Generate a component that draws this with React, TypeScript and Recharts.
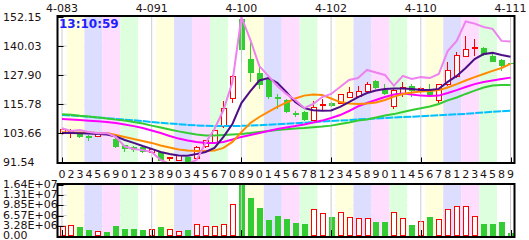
import React from 'react';
import { ComposedChart, Bar, Line, XAxis, YAxis, CartesianGrid, ReferenceArea, ReferenceLine } from 'recharts';

// ---------- data ----------
const dayDigits = [0,2,3,4,5,6,9,0,1,2, 3,8,9,0,3,4,5,6,7,0, 8,9,0,1,4,5,6,7,8,1, 2,3,4,5,8,9,0,1,1,4, 5,6,7,8,1,2,3,4,5,8, 9];
const topDateLabels = ['4-083', '4-091', '4-100', '4-102', '4-110', '4-111'];
const topDateIndex = [0, 10, 20, 30, 40, 50];

const opens = [103.6,103.9,103.4,102.7,102.3,103.8,101.3,98.8,97.9,97.9,
  95.8,95.8,93.3,92.3,93.7,93.4,98.1,99.9,106.5,118.0,
  151.3,134.7,128.7,126.3,118.9,117.6,112.0,112.5,109.2,115.2,
  116.3,116.2,118.7,118.9,121.2,125.4,121.7,115.0,120.1,123.5,
  121.0,122.2,117.3,123.9,127.3,135.6,138.9,139.4,136.0,134.2,
  133.1];
const closes = [105.1,104.3,102.0,101.7,103.4,103.4,97.9,97.2,96.7,95.8,
  97.1,92.3,93.6,94.4,91.9,97.9,100.6,104.8,114.1,127.4,
  138.4,128.7,123.9,118.7,118.2,112.7,111.3,109.2,114.5,115.8,
  115.2,119.7,120.8,121.2,124.2,122.6,120.0,121.7,122.9,121.2,
  122.2,119.4,123.9,129.8,136.0,138.8,139.4,136.2,133.6,131.9,
  132.6];
const highs = [105.4,105.5,103.6,102.9,103.6,104.0,101.6,99.0,98.5,98.2,
  97.4,96.0,94.0,94.8,94.0,98.3,101.0,105.2,117.0,127.8,
  152.15,141.6,132.6,127.0,119.9,118.0,113.1,113.0,117.0,118.0,
  116.6,120.0,123.1,123.5,125.0,125.8,124.2,122.0,124.9,124.2,
  123.0,124.2,124.3,133.3,137.4,144.4,143.0,139.6,137.7,134.6,
  133.5];
const lows = [103.2,101.7,101.8,100.6,102.1,103.0,97.5,95.8,96.0,95.5,
  95.5,92.0,92.3,92.0,91.54,92.6,97.6,99.5,106.0,116.2,
  132.9,124.9,122.1,118.0,113.8,112.3,110.4,108.8,108.8,113.1,
  114.8,115.8,118.3,118.5,120.4,122.3,119.7,113.8,118.7,118.7,
  120.0,118.8,116.5,123.5,126.9,135.3,136.0,135.8,133.3,129.8,
  132.2];
const volumes = [3.2e6,3.5e6,2.8e6,1.9e6,1.6e6,1.3e6,3.2e6,2.25e6,2.25e6,1.9e6,
  2.15e6,2.9e6,2.15e6,1.6e6,1.9e6,3.75e6,3.2e6,3.2e6,3.85e6,1.03e7,
  1.6422e7,1.21e7,8.9e6,5.15e6,6.45e6,5.5e6,4.3e6,3.85e6,8.6e6,7.5e6,
  6.0e6,7.8e6,6.2e6,5.7e6,5.7e6,4.5e6,4.5e6,7.6e6,5.7e6,3.5e6,
  4.7e6,6.0e6,5.4e6,8.6e6,9.55e6,9.55e6,6.35e6,3.85e6,3.85e6,4.5e6,
  0.95e6];

const violetLine = [105.8,104.7,105.1,104.2,103.7,103.8,102.2,98.2,97.2,96.7,
  95.9,92.6,91.0,91.0,91.0,92.6,99.7,105.5,113.4,125.1,
  152.15,142.6,131.7,127.6,123.4,120.1,117.6,114.2,115.9,118.8,
  120.1,123.0,125.9,126.7,130.1,129.0,128.0,123.5,127.6,126.3,
  127.1,126.7,128.4,138.0,142.2,150.3,149.4,148.0,147.2,142.2,
  141.9];
const purpleLine = [103.8,103.8,103.7,103.6,103.4,103.2,102.4,100.9,99.7,98.4,
  97.2,95.9,95.1,94.5,94.4,95.1,95.9,97.6,102.2,107.6,
  116.3,121.3,125.7,126.7,124.7,120.9,116.7,114.2,113.3,113.1,
  113.2,114.7,116.7,118.8,120.5,121.5,122.2,122.4,122.4,122.2,
  121.7,121.7,122.2,125.1,127.6,130.9,134.6,136.7,137.2,136.3,
  135.6];
const orangeLine = [104.1,104.0,104.0,104.0,103.8,103.8,103.0,102.2,101.3,100.5,
  99.7,98.6,97.8,97.0,96.5,96.3,96.3,96.5,97.6,100.1,
  104.2,108.0,110.5,112.6,114.7,116.5,118.2,119.4,119.9,119.7,
  118.2,116.7,116.1,115.9,116.1,116.5,117.6,119.0,120.1,120.7,
  121.1,121.3,121.7,122.8,124.2,125.7,127.1,128.4,129.7,130.9,
  132.6];
const magentaLine = [109.7,109.45,109.2,108.95,108.7,108.4,108.0,107.4,106.7,105.9,
  104.9,103.8,102.6,101.5,100.7,100.1,99.7,99.7,100.1,101.1,
  102.2,103.0,103.8,104.7,105.5,106.1,106.7,107.4,108.2,109.0,
  110.1,111.3,113.0,114.9,116.3,117.6,118.8,119.9,120.3,119.9,
  119.4,119.2,119.4,120.5,121.7,123.0,124.2,125.1,125.7,126.3,
  126.9];
const greenLine = [111.6,111.4,111.0,110.7,110.3,109.9,109.4,109.0,108.4,107.8,
  106.9,106.1,105.3,104.5,103.8,103.2,102.8,102.8,103.0,103.2,
  103.4,103.8,104.3,104.7,105.1,105.4,105.7,105.9,106.2,106.5,
  106.9,107.6,108.2,109.0,109.45,110.3,111.1,111.7,112.6,113.4,
  114.1,114.9,115.9,117.4,118.6,120.1,121.5,122.8,123.6,123.8,
  123.8];
const cyanLine = [111.3,111.1,110.9,110.6,110.3,110.0,109.7,109.4,109.1,108.8,
  108.4,108.1,107.8,107.5,107.2,107.0,106.8,106.7,106.7,106.7,
  106.8,106.9,107.1,107.3,107.5,107.7,107.9,108.1,108.3,108.6,
  108.8,109.0,109.2,109.5,109.7,109.9,110.1,110.3,110.5,110.6,
  110.8,111.0,111.2,111.4,111.6,111.8,112.1,112.4,112.7,112.9,
  113.1];

const priceTicks = [91.54, 103.66, 115.78, 127.90, 140.03, 152.15];
const volumeTicks = [0, 3.2844e6, 6.5688e6, 9.8532e6, 1.31376e7, 1.6422e7];
const stripeColors = ['#ffffdd', '#ddddff', '#ffddff', '#ddffdd', '#ffffff'];

// ---------- derived table ----------
const rows = opens.map((o, i) => ({
  i,
  open: o,
  close: closes[i],
  high: highs[i],
  low: lows[i],
  range: [lows[i], highs[i]],
  vol: volumes[i],
  violet: violetLine[i],
  purple: purpleLine[i],
  orange: orangeLine[i],
  magenta: magentaLine[i],
  green: greenLine[i],
  cyan: cyanLine[i],
}));

const stripes = Array.from({ length: 25 }, (_, k) => ({ x1: 2 * k + 1, x2: 2 * k + 2, fill: stripeColors[k % 5] }));

const RED = '#ff0000';
const GREEN = '#33cc33';
const FONT = 'DejaVu Sans';
const TEXT = '#221111';
const GRID = '#cccccc';
const LABEL_LEFT = 3;

const fmtVol = (v: number) => {
  if (v === 0) return '0.00';
  const e = Math.floor(Math.log10(v));
  const m = v / Math.pow(10, e);
  return m.toFixed(2) + 'E+' + String(e).padStart(2, '0');
};

// ---------- shapes ----------
const Candle = (props: any) => {
  const { x, y, width, height, payload } = props;
  if (x == null || payload == null) return null;
  const { open, close, high, low } = payload;
  const span = high - low || 1;
  const k = height / span;
  const yO = y + (high - open) * k;
  const yC = y + (high - close) * k;
  const cx = Math.round(x + width / 2) + 0.5;
  const up = close >= open;
  const color = up ? RED : GREEN;
  const top = Math.min(yO, yC);
  const h = Math.max(Math.abs(yO - yC), 1);
  return (
    <g shapeRendering="crispEdges">
      <line x1={cx} x2={cx} y1={y} y2={y + height} stroke={color} strokeWidth={1} />
      {up ? (
        <rect x={cx - 2.5} y={top} width={5} height={h} fill="#ffffff" stroke={color} strokeWidth={1} />
      ) : (
        <rect x={cx - 3} y={top} width={6} height={h} fill={color} />
      )}
    </g>
  );
};

const VolBar = (props: any) => {
  const { x, y, width, height, payload } = props;
  if (x == null || payload == null) return null;
  const up = payload.close >= payload.open;
  const cx = Math.round(x + width / 2) + 0.5;
  return (
    <g shapeRendering="crispEdges">
      {up ? (
        <rect x={cx - 2.5} y={y + 0.5} width={5} height={Math.max(height - 1, 0)} fill="#ffffff" stroke={RED} strokeWidth={1} />
      ) : (
        <rect x={cx - 3} y={y} width={6} height={height} fill={GREEN} />
      )}
    </g>
  );
};

// ---------- ticks ----------
const TopTick = (props: any) => {
  const { x, y, payload } = props;
  const idx = topDateIndex.indexOf(payload.value);
  if (idx < 0) return <g />;
  return (
    <text x={x} y={y - 5} textAnchor="middle" fontFamily={FONT} fontSize={11} fill={TEXT}>
      {topDateLabels[idx]}
    </text>
  );
};

const DigitTick = (props: any) => {
  const { x, y, payload } = props;
  const v = payload.value;
  return (
    <g>
      <text x={x} y={y + 15.5} textAnchor="middle" fontFamily={FONT} fontSize={11} fill={TEXT}>
        {String(dayDigits[v])}
      </text>
      {v % 10 === 0 ? <line x1={Math.round(x) + 0.5} x2={Math.round(x) + 0.5} y1={y - 5} y2={y} stroke="#000" strokeWidth={1} /> : null}
    </g>
  );
};

const VolXTick = (props: any) => {
  const { x, y } = props;
  return <line x1={Math.round(x) + 0.5} x2={Math.round(x) + 0.5} y1={y - 6} y2={y} stroke="#000" strokeWidth={1} />;
};

const PriceTick = (props: any) => {
  const { x, y, payload } = props;
  return (
    <g>
      <text x={LABEL_LEFT} y={y + 3.5} textAnchor="start" fontFamily={FONT} fontSize={11} fill={TEXT}>
        {Number(payload.value).toFixed(2)}
      </text>
      <line x1={x} x2={x + 6} y1={Math.round(y) + 0.5} y2={Math.round(y) + 0.5} stroke="#000" strokeWidth={1} />
    </g>
  );
};

const VolTick = (props: any) => {
  const { x, y, payload } = props;
  return (
    <g>
      <text x={LABEL_LEFT} y={y + 3} textAnchor="start" fontFamily={FONT} fontSize={11} fill={TEXT}>
        {fmtVol(Number(payload.value))}
      </text>
      <line x1={x} x2={x + 6} y1={Math.round(y) + 0.5} y2={Math.round(y) + 0.5} stroke="#000" strokeWidth={1} />
    </g>
  );
};

const lineProps = { dot: false, activeDot: false, isAnimationActive: false, strokeWidth: 2, type: 'linear' as const, xAxisId: 'b', yAxisId: 'p' };

export default function App() {
  return (
    <div style={{ position: 'absolute', left: 0, top: 0, width: 529, height: 240, background: '#ffffff', overflow: 'hidden' }}>
      <div style={{ position: 'absolute', left: 0, top: 0 }}>
        <ComposedChart width={529} height={185} data={rows} margin={{ top: 0, right: 14, bottom: 0, left: 0 }}>
          <XAxis xAxisId="top" dataKey="i" orientation="top" height={17} interval={9} tickLine={false} axisLine={false} tickSize={0} tickMargin={0} tick={(p: any) => <TopTick {...p} />} />
          <XAxis xAxisId="b" dataKey="i" height={22.5} interval={0} tickLine={false} axisLine={false} tickSize={0} tickMargin={0} tick={(p: any) => <DigitTick {...p} />} />
          <YAxis yAxisId="p" domain={[91.54, 152.15]} ticks={priceTicks} interval={0} width={57.5} allowDataOverflow tickLine={false} axisLine={false} tickSize={0} tickMargin={0} tick={(p: any) => <PriceTick {...p} />} />
          {stripes.map((s, k) => (
            <ReferenceArea key={'s' + k} xAxisId="b" yAxisId="p" x1={s.x1} x2={s.x2} fill={s.fill} fillOpacity={1} stroke="none" ifOverflow="visible" />
          ))}
          <CartesianGrid xAxisId="b" yAxisId="p" vertical={false} stroke={GRID} />
          {topDateIndex.map((g) => (
            <ReferenceLine key={'g' + g} xAxisId="b" yAxisId="p" x={g} stroke={GRID} strokeWidth={1} />
          ))}
          <Bar xAxisId="b" yAxisId="p" dataKey="range" barSize={6} shape={(p: any) => <Candle {...p} />} isAnimationActive={false} />
          <Line {...lineProps} dataKey="cyan" stroke="#00bfff" strokeDasharray="8 1" />
          <Line {...lineProps} dataKey="green" stroke={GREEN} />
          <Line {...lineProps} dataKey="magenta" stroke="#ff00ff" />
          <Line {...lineProps} dataKey="orange" stroke="#ff8c00" />
          <Line {...lineProps} dataKey="purple" stroke="#4c0f87" />
          <Line {...lineProps} dataKey="violet" stroke="#ee82ee" />
        </ComposedChart>
      </div>
      <div style={{ position: 'absolute', left: 0, top: 170 }}>
        <ComposedChart width={529} height={70} data={rows} margin={{ top: 15, right: 14, bottom: 0, left: 0 }}>
          <XAxis xAxisId="v" dataKey="i" height={4} interval={9} tickLine={false} axisLine={false} tickSize={0} tickMargin={0} tick={(p: any) => <VolXTick {...p} />} />
          <YAxis yAxisId="v" domain={[0, 1.6422e7]} ticks={volumeTicks} interval={0} width={57.5} tickLine={false} axisLine={false} tickSize={0} tickMargin={0} tick={(p: any) => <VolTick {...p} />} />
          {stripes.map((s, k) => (
            <ReferenceArea key={'v' + k} xAxisId="v" yAxisId="v" x1={s.x1} x2={s.x2} fill={s.fill} fillOpacity={1} stroke="none" ifOverflow="visible" />
          ))}
          <CartesianGrid xAxisId="v" yAxisId="v" vertical={false} stroke={GRID} />
          {topDateIndex.map((g) => (
            <ReferenceLine key={'vg' + g} xAxisId="v" yAxisId="v" x={g} stroke={GRID} strokeWidth={1} />
          ))}
          <Bar xAxisId="v" yAxisId="v" dataKey="vol" barSize={6} shape={(p: any) => <VolBar {...p} />} isAnimationActive={false} />
        </ComposedChart>
      </div>
      <svg width={529} height={240} style={{ position: 'absolute', left: 0, top: 0, pointerEvents: 'none' }}>
        <rect x={57.5} y={16} width={457} height={147} fill="none" stroke="#000" strokeWidth={2} />
        <rect x={57.5} y={184} width={457} height={53} fill="none" stroke="#000" strokeWidth={2} />
        <text x={59} y={28} fontFamily={FONT} fontWeight="bold" fontSize={12} fill="#1e1eff">13:10:59</text>
      </svg>
    </div>
  );
}
